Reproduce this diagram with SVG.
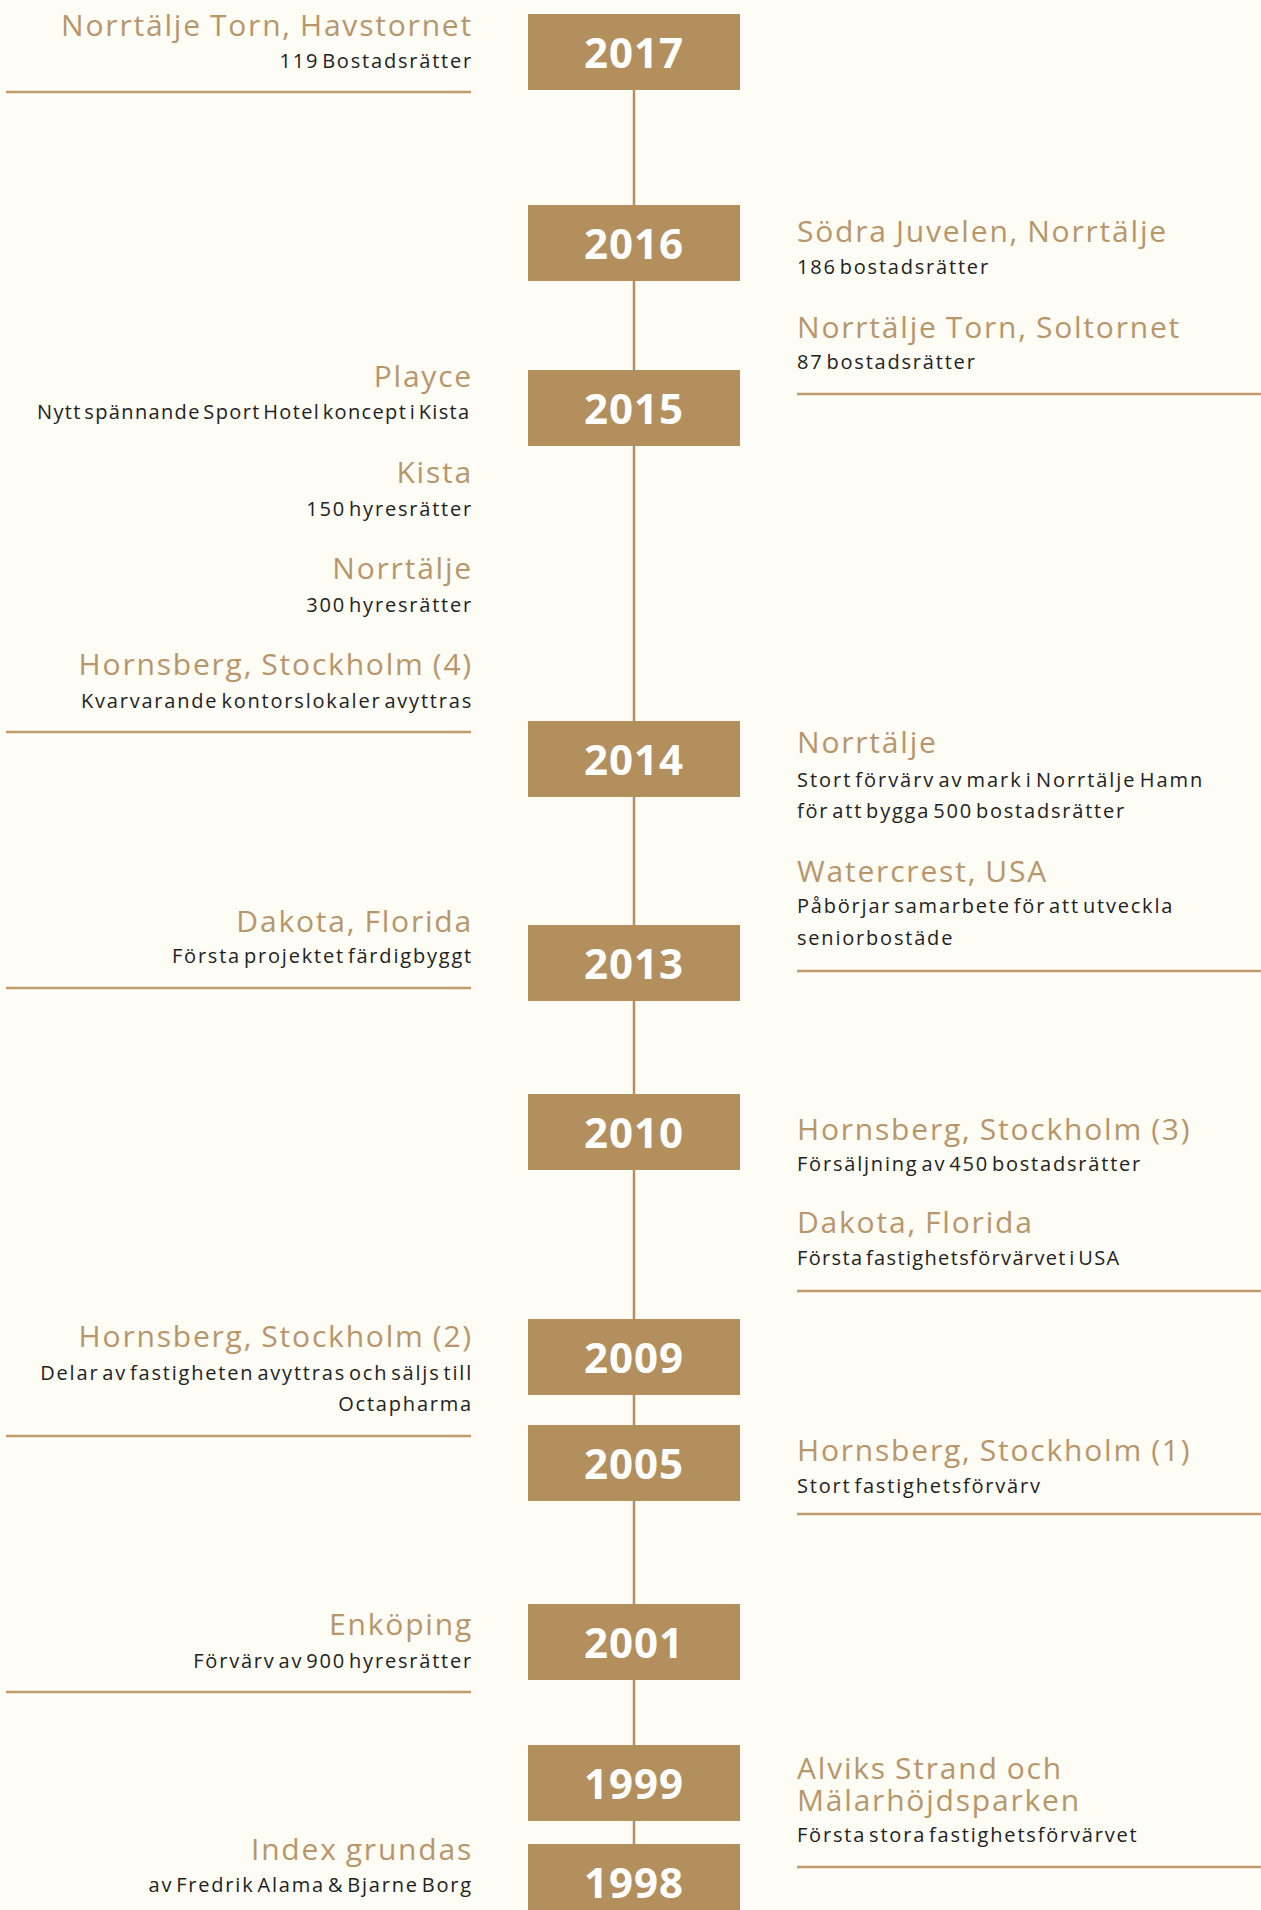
<svg xmlns="http://www.w3.org/2000/svg" width="1261" height="1910" viewBox="0 0 1261 1910">
<style>
.bg{fill:#FDFCF5}
.box{fill:#B38F5E}
.yr{font-family:"Open Sans",sans-serif;font-weight:700;font-size:42px;fill:#FFFFFF;text-anchor:middle;letter-spacing:1px}
.t{font-family:"Open Sans",sans-serif;font-weight:400;font-size:30px;fill:#B8966A;letter-spacing:1.8px;word-spacing:-1.5px}
.s{font-family:"Open Sans",sans-serif;font-weight:400;font-size:20px;fill:#222222;letter-spacing:1.8px;word-spacing:-4px}
.l{text-anchor:end}
.sep{stroke:#BF9D6C;stroke-width:2.5}
.axis{stroke:#B38F5E;stroke-width:2.5}
</style>
<rect class="bg" x="0" y="0" width="1261" height="1910"/>
<g id="connectors">
<line class="axis" x1="634" y1="52" x2="634" y2="1900"/>
</g>
<g id="y2017"><rect class="box" x="528" y="14" width="212" height="76"/><text class="yr" x="634" y="68">2017</text></g>
<g id="y2016"><rect class="box" x="528" y="205" width="212" height="76"/><text class="yr" x="634" y="259">2016</text></g>
<g id="y2015"><rect class="box" x="528" y="370" width="212" height="76"/><text class="yr" x="634" y="424">2015</text></g>
<g id="y2014"><rect class="box" x="528" y="721" width="212" height="76"/><text class="yr" x="634" y="775">2014</text></g>
<g id="y2013"><rect class="box" x="528" y="925" width="212" height="76"/><text class="yr" x="634" y="979">2013</text></g>
<g id="y2010"><rect class="box" x="528" y="1094" width="212" height="76"/><text class="yr" x="634" y="1148">2010</text></g>
<g id="y2009"><rect class="box" x="528" y="1319" width="212" height="76"/><text class="yr" x="634" y="1373">2009</text></g>
<g id="y2005"><rect class="box" x="528" y="1425" width="212" height="76"/><text class="yr" x="634" y="1479">2005</text></g>
<g id="y2001"><rect class="box" x="528" y="1604" width="212" height="76"/><text class="yr" x="634" y="1658">2001</text></g>
<g id="y1999"><rect class="box" x="528" y="1745" width="212" height="76"/><text class="yr" x="634" y="1799">1999</text></g>
<g id="y1998"><rect class="box" x="528" y="1844" width="212" height="76"/><text class="yr" x="634" y="1898">1998</text></g>

<g id="e2017">
<text class="t l" x="473" y="36">Norrtälje Torn, Havstornet</text>
<text class="s l" x="473" y="68">119 Bostadsrätter</text>
<line class="sep" x1="6" y1="92" x2="471" y2="92"/>
</g>
<g id="e2016">
<text class="t" x="797" y="242">Södra Juvelen, Norrtälje</text>
<text class="s" x="797" y="274">186 bostadsrätter</text>
<text class="t" x="797" y="338">Norrtälje Torn, Soltornet</text>
<text class="s" x="797" y="369">87 bostadsrätter</text>
<line class="sep" x1="797" y1="394" x2="1261" y2="394"/>
</g>
<g id="e2015">
<text class="t l" x="473" y="387">Playce</text>
<text class="s l" x="471" y="419" textLength="434" lengthAdjust="spacing">Nytt spännande Sport Hotel koncept i Kista</text>
<text class="t l" x="473" y="483">Kista</text>
<text class="s l" x="473" y="516">150 hyresrätter</text>
<text class="t l" x="473" y="579">Norrtälje</text>
<text class="s l" x="473" y="612">300 hyresrätter</text>
<text class="t l" x="473" y="675">Hornsberg, Stockholm (4)</text>
<text class="s l" x="473" y="708">Kvarvarande kontorslokaler avyttras</text>
<line class="sep" x1="6" y1="732" x2="471" y2="732"/>
</g>
<g id="e2014">
<text class="t" x="797" y="753">Norrtälje</text>
<text class="s" x="797" y="787" textLength="407" lengthAdjust="spacing">Stort förvärv av mark i Norrtälje Hamn</text>
<text class="s" x="797" y="818">för att bygga 500 bostadsrätter</text>
<text class="t" x="797" y="882">Watercrest, USA</text>
<text class="s" x="797" y="913">Påbörjar samarbete för att utveckla</text>
<text class="s" x="797" y="945">seniorbostäde</text>
<line class="sep" x1="797" y1="971" x2="1261" y2="971"/>
</g>
<g id="e2013">
<text class="t l" x="473" y="932">Dakota, Florida</text>
<text class="s l" x="473" y="963">Första projektet färdigbyggt</text>
<line class="sep" x1="6" y1="988" x2="471" y2="988"/>
</g>
<g id="e2010">
<text class="t" x="797" y="1140">Hornsberg, Stockholm (3)</text>
<text class="s" x="797" y="1171">Försäljning av 450 bostadsrätter</text>
<text class="t" x="797" y="1233">Dakota, Florida</text>
<text class="s" x="797" y="1265" textLength="324" lengthAdjust="spacing">Första fastighetsförvärvet i USA</text>
<line class="sep" x1="797" y1="1291" x2="1261" y2="1291"/>
</g>
<g id="e2009">
<text class="t l" x="473" y="1347">Hornsberg, Stockholm (2)</text>
<text class="s l" x="473" y="1380">Delar av fastigheten avyttras och säljs till</text>
<text class="s l" x="473" y="1411">Octapharma</text>
<line class="sep" x1="6" y1="1436" x2="471" y2="1436"/>
</g>
<g id="e2005">
<text class="t" x="797" y="1461">Hornsberg, Stockholm (1)</text>
<text class="s" x="797" y="1493">Stort fastighetsförvärv</text>
<line class="sep" x1="797" y1="1514" x2="1261" y2="1514"/>
</g>
<g id="e2001">
<text class="t l" x="473" y="1635">Enköping</text>
<text class="s l" x="473" y="1668">Förvärv av 900 hyresrätter</text>
<line class="sep" x1="6" y1="1692" x2="471" y2="1692"/>
</g>
<g id="e1999">
<text class="t" x="797" y="1779">Alviks Strand och</text>
<text class="t" x="797" y="1811">Mälarhöjdsparken</text>
<text class="s" x="797" y="1842">Första stora fastighetsförvärvet</text>
<line class="sep" x1="797" y1="1867" x2="1261" y2="1867"/>
</g>
<g id="e1998">
<text class="t l" x="473" y="1860">Index grundas</text>
<text class="s l" x="473" y="1892">av Fredrik Alama &amp; Bjarne Borg</text>
</g>
</svg>
